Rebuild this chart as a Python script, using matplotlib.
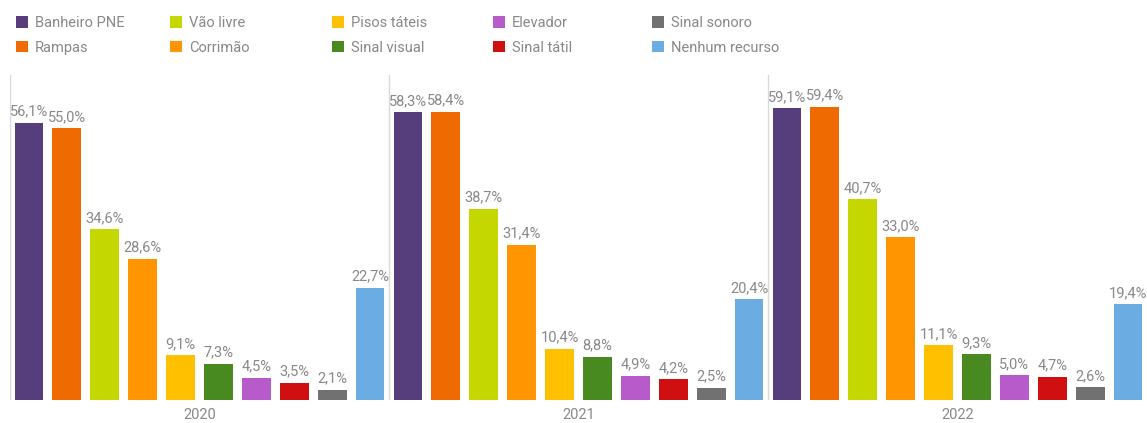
import matplotlib.pyplot as plt
from matplotlib.patches import Patch

# data
years = ["2020", "2021", "2022"]
recursos = ["Banheiro PNE", "Rampas", "Vão livre", "Corrimão", "Pisos táteis",
            "Sinal visual", "Elevador", "Sinal tátil", "Sinal sonoro", "Nenhum recurso"]
valores_2020 = [56.1, 55.0, 34.6, 28.6, 9.1, 7.3, 4.5, 3.5, 2.1, 22.7]
valores_2021 = [58.3, 58.4, 38.7, 31.4, 10.4, 8.8, 4.9, 4.2, 2.5, 20.4]
valores_2022 = [59.1, 59.4, 40.7, 33.0, 11.1, 9.3, 5.0, 4.7, 2.6, 19.4]
valores = [valores_2020, valores_2021, valores_2022]

cores = ["#563D7C", "#EF6A00", "#C5D700", "#FF9500", "#FFC000",
         "#488A20", "#B75BCA", "#CF0F10", "#717171", "#6BADE3"]

cinza = "#888888"

plt.rcParams['font.family'] = ['Roboto', 'DejaVu Sans']

fig = plt.figure(figsize=(11.47, 4.23), dpi=100)
ax = fig.add_axes([10 / 1147, 1 - 400 / 423, 1137 / 1147, 325 / 423])

n = len(recursos)
for g, vals in enumerate(valores):
    xs = [g * n + i for i in range(n)]
    bars = ax.bar(xs, vals, width=0.76, color=cores)
    for b, v in zip(bars, vals):
        ax.annotate(f"{v:.1f}%".replace(".", ","), (b.get_x() + b.get_width() / 2, v),
                    xytext=(0, 3), textcoords="offset points", ha="center", va="bottom",
                    fontsize=10.5, color=cinza)

# separators between the years
for g in range(len(years)):
    ax.axvline(g * n - 0.5, color="#d9d9d9", linewidth=1)

ax.set_xlim(-0.5, len(years) * n - 0.5)
ax.set_ylim(0, 65.8)
ax.set_yticks([])
ax.set_xticks([g * n + (n - 1) / 2 for g in range(len(years))])
ax.set_xticklabels(years, fontsize=10.5, color=cinza)
ax.tick_params(axis="x", length=0, pad=6)
for s in ax.spines.values():
    s.set_visible(False)

# legend, one small legend per column so the columns sit where they should
col_x = [16, 170, 332, 493, 652]
for c, x in enumerate(col_x):
    handles = [Patch(facecolor=cores[2 * c + k], edgecolor="none") for k in range(2)]
    labels = [recursos[2 * c + k] for k in range(2)]
    fig.legend(handles, labels, loc="upper left", bbox_to_anchor=(x / 1147, 1 - 16 / 423),
               frameon=False, fontsize=10.5, labelcolor=cinza, handlelength=0.8,
               handleheight=0.8, handletextpad=0.5, labelspacing=0.75,
               borderpad=0, borderaxespad=0)

fig.savefig("out.png", dpi=100)
